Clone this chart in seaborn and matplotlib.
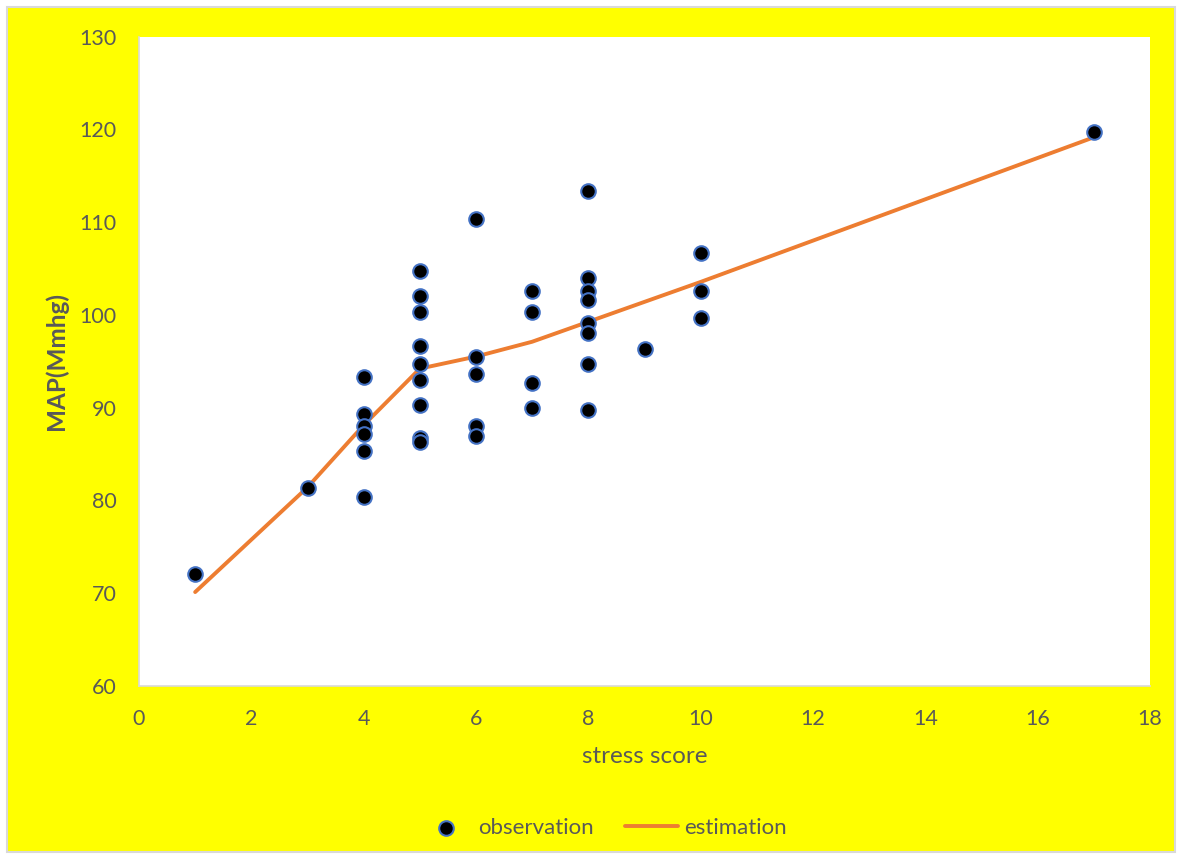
import pandas as pd
import matplotlib.pyplot as plt
import seaborn as sns
from matplotlib.patches import Rectangle

# Beobachtungen (stress score vs. MAP)
stress_obs = [1, 3,
              4, 4, 4, 4, 4, 4,
              5, 5, 5, 5, 5, 5, 5, 5, 5,
              6, 6, 6, 6, 6,
              7, 7, 7, 7,
              8, 8, 8, 8, 8, 8, 8, 8,
              9,
              10, 10, 10,
              17]
map_obs = [72.1, 81.3,
           93.3, 89.3, 88.0, 87.2, 85.3, 80.3,
           104.7, 102.0, 100.3, 96.6, 94.7, 93.0, 90.3, 86.7, 86.3,
           110.3, 95.4, 93.6, 88.0, 86.9,
           102.6, 100.3, 92.6, 90.0,
           113.4, 104.0, 102.6, 101.6, 99.1, 98.0, 94.7, 89.7,
           96.3,
           106.7, 102.6, 99.7,
           119.7]

# Schaetzung
stress_est = [1, 3, 4, 5, 6, 7, 8, 9, 10, 17]
map_est = [70.1, 81.4, 88.1, 94.2, 95.5, 97.1, 99.25, 101.4, 103.55, 119.15]

obs = pd.DataFrame({'stress score': stress_obs, 'MAP': map_obs})
est = pd.DataFrame({'stress score': stress_est, 'MAP': map_est})

sns.set_style('white')
plt.rcParams['font.family'] = ['Lato', 'DejaVu Sans']
grey = '#595959'

fig = plt.figure(figsize=(11.82, 8.59), dpi=100, facecolor='white')
bg = Rectangle((7 / 1182, 7 / 859), 1168 / 1182, 845 / 859,
               transform=fig.transFigure, facecolor='#ffff00',
               edgecolor='#d9d9d9', linewidth=1.5, zorder=-10)
fig.add_artist(bg)
ax = fig.add_axes([139 / 1182, 1 - 685.7 / 859, 1011 / 1182, 649 / 859])
ax.set_facecolor('white')

sns.lineplot(data=est, x='stress score', y='MAP', ax=ax, color='#ed7d31',
             linewidth=2.8, label='estimation', zorder=2)
sns.scatterplot(data=obs, x='stress score', y='MAP', ax=ax, color='black',
                edgecolor='#4472c4', linewidth=1.5, s=110, label='observation',
                zorder=3)

ax.set_xlim(0, 18)
ax.set_ylim(60, 130)
ax.set_xticks(range(0, 19, 2))
ax.set_yticks(range(60, 131, 10))
ax.tick_params(axis='both', length=0, labelsize=15.5, labelcolor=grey)
ax.tick_params(axis='y', pad=16)
ax.tick_params(axis='x', pad=17)
for s in ['top', 'right']:
    ax.spines[s].set_visible(False)
for s in ['left', 'bottom']:
    ax.spines[s].set_color('#d9d9d9')
    ax.spines[s].set_linewidth(1.2)

ax.set_xlabel('stress score', fontsize=17.5, color=grey, labelpad=12)
ax.set_ylabel('MAP(Mmhg)', fontsize=17.5, color=grey, fontweight='bold', labelpad=8)

handles, labels = ax.get_legend_handles_labels()
ax.get_legend().remove()
order = [labels.index('observation'), labels.index('estimation')]
fig.legend([handles[i] for i in order], [labels[i] for i in order],
           loc='center', bbox_to_anchor=(0.510, 1 - 828 / 859), ncol=2,
           frameon=False, fontsize=16, labelcolor=grey, handlelength=2.4,
           handletextpad=0.25, columnspacing=1.4)

fig.savefig('out.png', dpi=100, facecolor=fig.get_facecolor())
